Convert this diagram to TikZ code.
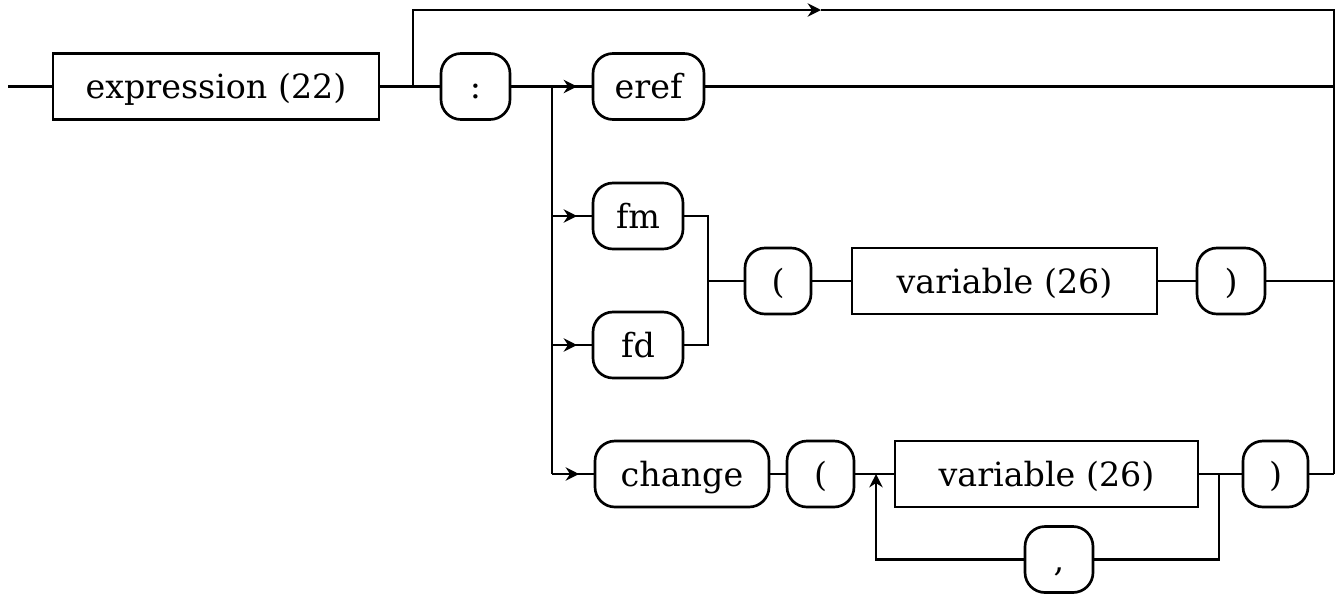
\documentclass[tikz,border=0pt]{standalone}
\usepackage{fontspec}
\newfontfamily\dvs{DejaVu Serif}
\usetikzlibrary{arrows.meta,decorations.markings}
\begin{document}
\begin{tikzpicture}[x=0.75pt,y=-0.75pt,
  conn/.style={line width=2pt},
  term/.style={draw, line width=2pt, rounded corners=15pt, minimum height=49.5pt,
    inner sep=0pt, font=\dvs\fontsize{25}{30}\selectfont, text height=18pt, text depth=0pt},
  nterm/.style={term, sharp corners},
  midarrow/.style={postaction={decorate}, decoration={markings,
    mark=at position -11pt with {\arrow{Stealth[length=10pt,width=10pt]}}}},
  endarrow/.style={-{Stealth[length=10pt,width=10pt]}}
]
\useasboundingbox (0,0) rectangle (1341,594);

% nodes
\node[nterm, minimum width=244.5pt] (expr) at (216,86.5) {expression (22)};
\node[term, minimum width=51.75pt] (colon) at (475.5,86.5) {:};
\node[term, minimum width=83.25pt] (eref) at (648.5,86.5) {eref};
\node[term, minimum width=67.5pt] (fm) at (638,216) {fm};
\node[term, minimum width=67.5pt] (fd) at (638,345) {fd};
\node[term, minimum width=49.5pt] (lp1) at (778,281) {(};
\node[nterm, minimum width=228.75pt] (var1) at (1004.5,281) {variable (26)};
\node[term, minimum width=51pt] (rp1) at (1231,281) {)};
\node[term, minimum width=130.5pt] (change) at (682,474) {change};
\node[term, minimum width=50.25pt] (lp2) at (820.5,474) {(};
\node[nterm, minimum width=227.25pt] (var2) at (1046.5,474) {variable (26)};
\node[term, minimum width=48.75pt] (rp2) at (1275.5,474) {)};
\node[term, minimum width=51pt] (comma) at (1059,559.5) {,};

% coordinates
\coordinate (s) at (8,86.5);
\coordinate (j1) at (413,86.5);
\coordinate (j2) at (552,86.5);
\coordinate (tl) at (413,10);
\coordinate (tm) at (821,10);
\coordinate (tr) at (1334,10);
\coordinate (r1) at (1334,86.5);
\coordinate (r2) at (1334,281);
\coordinate (r3) at (1334,474);
\coordinate (jfm) at (552,216);
\coordinate (jfd) at (552,345);
\coordinate (jch) at (552,474);
\coordinate (m1) at (708,216);
\coordinate (m2) at (708,345);
\coordinate (m3) at (708,281);
\coordinate (l1) at (876,474);
\coordinate (l2) at (876,559.5);
\coordinate (l3) at (1219,474);
\coordinate (l4) at (1219,559.5);

% connectors
\draw[conn] (s) -- (expr);
\draw[conn] (expr) -- (colon);
\draw[conn] (colon) -- (j2);
\draw[conn, midarrow] (j2) -- (eref);
\draw[conn, endarrow] (j1) -- (tl) -- (tm);
\draw[conn] (tm) -- (tr) -- (r3);
\draw[conn] (eref) -- (r1);
\draw[conn] (j2) -- (jch);
\draw[conn, midarrow] (jfm) -- (fm);
\draw[conn, midarrow] (jfd) -- (fd);
\draw[conn, midarrow] (jch) -- (change);
\draw[conn] (fm) -- (m1) -- (m2) -- (fd);
\draw[conn] (m3) -- (lp1);
\draw[conn] (lp1) -- (var1);
\draw[conn] (var1) -- (rp1);
\draw[conn] (rp1) -- (r2);
\draw[conn] (change) -- (lp2);
\draw[conn] (lp2) -- (var2);
\draw[conn] (var2) -- (rp2);
\draw[conn] (rp2) -- (r3);
\draw[conn] (l3) -- (l4) -- (comma);
\draw[conn, endarrow] (comma) -- (l2) -- (l1);
\end{tikzpicture}
\end{document}
